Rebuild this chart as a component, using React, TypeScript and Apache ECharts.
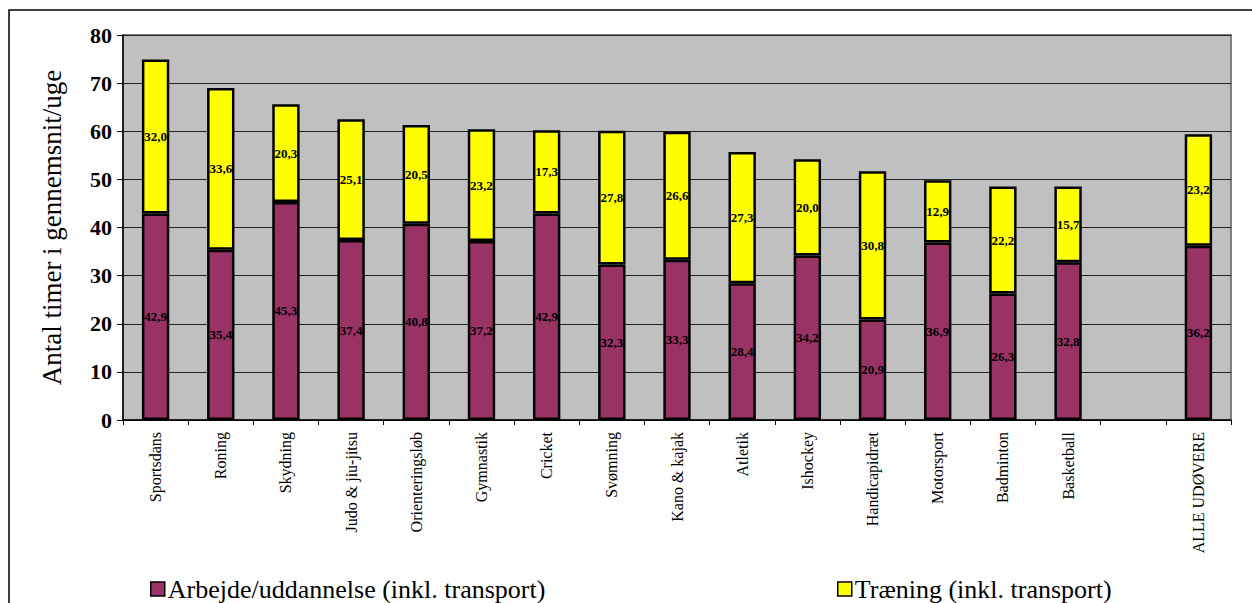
import React, { useEffect, useRef } from "react";
import * as echarts from "echarts";

const categories = [
  "Sportsdans", "Roning", "Skydning", "Judo & jiu-jitsu", "Orienteringsløb", "Gymnastik",
  "Cricket", "Svømning", "Kano & kajak", "Atletik", "Ishockey", "Handicapidræt",
  "Motorsport", "Badminton", "Basketball", "", "ALLE UDØVERE",
];
const arbejde = [42.9, 35.4, 45.3, 37.4, 40.8, 37.2, 42.9, 32.3, 33.3, 28.4, 34.2, 20.9, 36.9, 26.3, 32.8, null, 36.2];
const traening = [32.0, 33.6, 20.3, 25.1, 20.5, 23.2, 17.3, 27.8, 26.6, 27.3, 20.0, 30.8, 12.9, 22.2, 15.7, null, 23.2];
const seriesNames = ["Arbejde/uddannelse (inkl. transport)", "Træning (inkl. transport)"];
const yTicks = { min: 0, max: 80, interval: 10 };

const FONT = "Liberation Serif, serif";

export default function App() {
  const ref = useRef<HTMLDivElement>(null);
  useEffect(() => {
    const chart = echarts.init(ref.current!, null, { renderer: "svg" });
    const label = {
      show: true,
      position: "inside",
      fontFamily: FONT,
      fontSize: 13,
      fontWeight: "bold",
      color: "#000",
      formatter: (p: any) => (p.value == null ? "" : Number(p.value).toFixed(1).replace(".", ",")),
    };
    const legendCommon = {
      top: 571,
      itemWidth: 14,
      itemHeight: 14,
      itemGap: 4,
      icon: "rect",
      textStyle: { fontFamily: FONT, fontSize: 26, color: "#000", padding: [0, 0, 0, -2] },
      itemStyle: { borderColor: "#000", borderWidth: 1.5 },
    };
    chart.setOption({
      animation: false,
      backgroundColor: "#fff",
      textStyle: { fontFamily: FONT },
      graphic: [
        {
          type: "rect",
          shape: { x: 9, y: 10, width: 1260, height: 620 },
          style: { fill: "none", stroke: "#000", lineWidth: 1.5 },
          silent: true,
        },
      ],
      grid: {
        left: 123,
        right: 21,
        top: 35,
        bottom: 183,
        show: true,
        backgroundColor: "#C0C0C0",
        borderColor: "#808080",
        borderWidth: 2,
      },
      legend: [
        { ...legendCommon, data: [seriesNames[0]], left: 145 },
        { ...legendCommon, data: [seriesNames[1]], left: 832 },
      ],
      xAxis: {
        type: "category",
        data: categories,
        axisLine: { lineStyle: { color: "#000", width: 1.5 } },
        axisTick: { show: true, length: 5, lineStyle: { color: "#000" } },
        axisLabel: {
          rotate: 90,
          interval: 0,
          margin: 12,
          fontFamily: FONT,
          fontSize: 16,
          color: "#000",
        },
      },
      yAxis: {
        type: "value",
        min: yTicks.min,
        max: yTicks.max,
        interval: yTicks.interval,
        name: "Antal timer i gennemsnit/uge",
        nameLocation: "middle",
        nameGap: 58,
        nameTextStyle: { fontFamily: FONT, fontSize: 27, color: "#000" },
        axisLine: { show: true, lineStyle: { color: "#000", width: 1.5 } },
        axisTick: { show: true, length: 6, lineStyle: { color: "#000" } },
        axisLabel: {
          margin: 11,
          fontFamily: FONT,
          fontSize: 22,
          fontWeight: "bold",
          color: "#000",
        },
        splitLine: { show: true, lineStyle: { color: "#222", width: 1 } },
      },
      series: [
        {
          name: seriesNames[0],
          type: "bar",
          stack: "total",
          data: arbejde,
          barWidth: "42%",
          itemStyle: { color: "#993366", borderColor: "#000", borderWidth: 2.5 },
          label,
        },
        {
          name: seriesNames[1],
          type: "bar",
          stack: "total",
          data: traening,
          barWidth: "42%",
          itemStyle: { color: "#FFFF00", borderColor: "#000", borderWidth: 2.5 },
          label,
        },
      ],
    });
    return () => chart.dispose();
  }, []);
  return (
    <div
      ref={ref}
      style={{ position: "absolute", left: 0, top: 0, width: 1252, height: 603 }}
    />
  );
}
